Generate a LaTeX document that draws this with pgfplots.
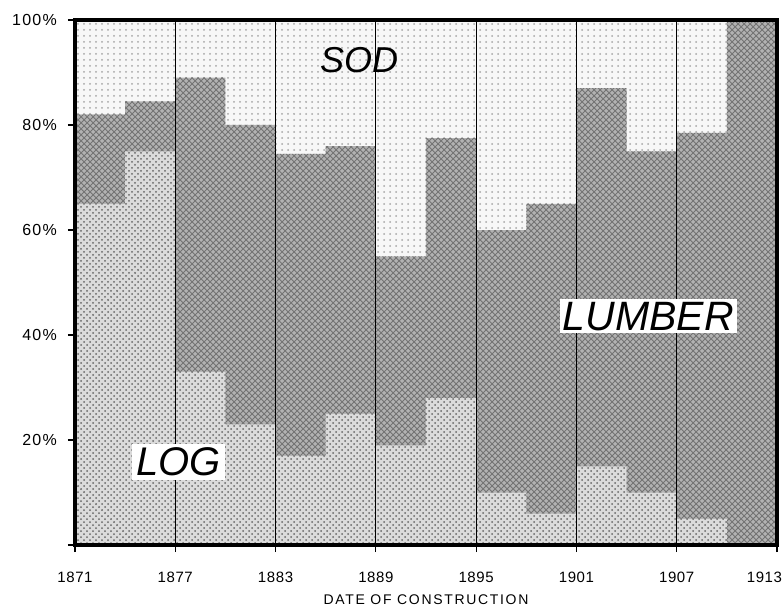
\documentclass[border=0pt]{standalone}
\usepackage{pgfplots}
\pgfplotsset{compat=1.18}
\usepackage{fontspec}
\setmainfont{Liberation Sans}
\usetikzlibrary{patterns}
\begin{document}
\begin{tikzpicture}
\begin{axis}[
  scale only axis, width=351pt, height=262.5pt,
  xmin=1871, xmax=1913, ymin=0, ymax=100,
  xtick={1871,1877,1883,1889,1895,1901,1907,1913},
  xticklabels={1871,1877,1883,1889,1895,1901,1907,\makebox[0pt][r]{1913\hspace{-2.5pt}}},
  ytick={0,20,40,60,80,100},
  yticklabels={,20\%,40\%,60\%,80\%,100\%},
  xticklabel style={font=\addfontfeatures{LetterSpace=4}\fontsize{7.5}{9}\selectfont, yshift=-6.5pt},
  yticklabel style={font=\addfontfeatures{LetterSpace=8}\fontsize{8}{9}\selectfont, xshift=-2pt},
  tick align=outside, major tick length=3.5pt,
  tick style={black, line width=0.6pt},
  xtick pos=bottom, ytick pos=left,
  axis on top,
  axis line style={line width=1.6pt},
  xmajorgrids, grid style={black, line width=0.6pt},
  xlabel={\addfontfeatures{LetterSpace=12}\fontsize{7}{8}\selectfont DATE OF CONSTRUCTION},
  xlabel style={at={(axis description cs:0.5,-0.1048)}, anchor=center},
]
% SOD (top layer, fills whole height)
\addplot[const plot, draw=none, fill=gray!6, postaction={pattern=dots, pattern color=gray!70}]
  coordinates {(1871,100)(1913,100)} \closedcycle;
% LUMBER (top of lumber = log + lumber share)
\addplot[const plot, draw=none, fill=gray!60, postaction={pattern=crosshatch, pattern color=black!55}]
  coordinates {(1871,82)(1874,84.5)(1877,89)(1880,80)(1883,74.5)(1886,76)(1889,55)(1892,77.5)(1895,60)(1898,65)(1901,87)(1904,75)(1907,78.5)(1910,100)(1913,100)} \closedcycle;
% LOG
\addplot[const plot, draw=none, fill=gray!28, postaction={pattern=crosshatch dots, pattern color=black!60}]
  coordinates {(1871,65)(1874,75)(1877,33)(1880,23)(1883,17)(1886,25)(1889,19)(1892,28)(1895,10)(1898,6)(1901,15)(1904,10)(1907,5)(1910,0)(1913,0)} \closedcycle;
\coordinate (sod) at (axis cs:1888,92.4);
\coordinate (lum) at (axis cs:1905.3,43.6);
\coordinate (log) at (axis cs:1877.2,15.8);
\coordinate (bbll) at (rel axis cs:-0.1068,-0.1276);
\coordinate (bbur) at (rel axis cs:1.00997,1.0381);
\end{axis}
\node[font=\itshape\fontsize{18}{18}\selectfont, inner sep=1pt] at (sod) {SOD};
\node[font=\itshape\fontsize{20.5}{21}\selectfont, fill=white, inner sep=1.5pt] at (lum) {LUMBER};
\node[font=\itshape\fontsize{20}{20}\selectfont, fill=white, inner sep=2pt] at (log) {LOG};
\pgfresetboundingbox
\path[use as bounding box] (bbll) rectangle (bbur);
\end{tikzpicture}
\end{document}
